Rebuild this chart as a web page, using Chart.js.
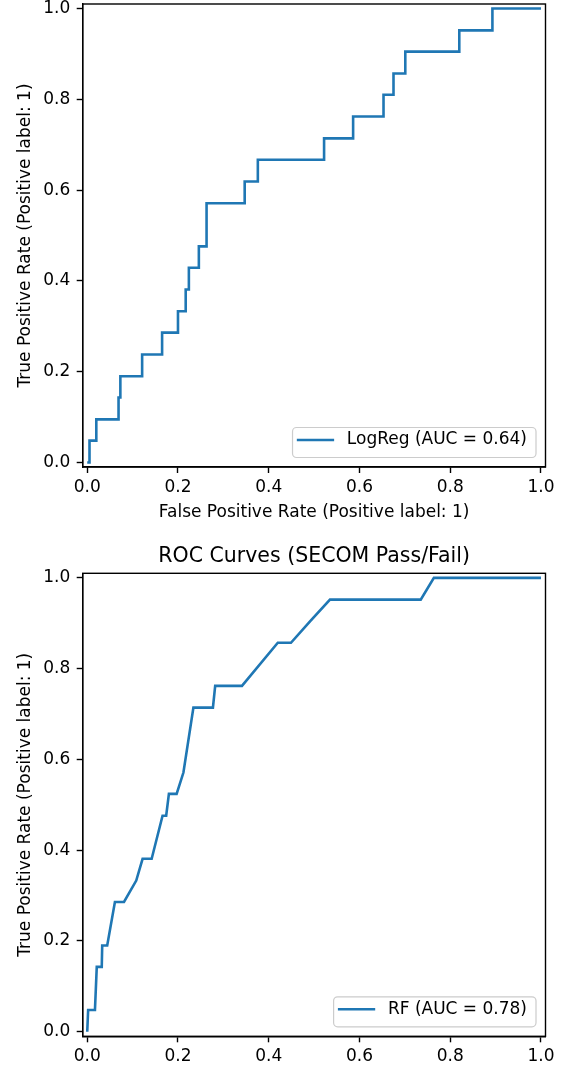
<!DOCTYPE html>
<html><head><meta charset="utf-8">
<script src="https://cdn.jsdelivr.net/npm/chart.js@4.4.1/dist/chart.umd.min.js"></script>
<style>
html,body{margin:0;padding:0;background:#fff;width:573px;height:1065px;overflow:hidden}
.wrap{position:absolute;left:0;width:573px}
canvas{display:block}
</style></head><body>
<div class="wrap" style="top:0;height:532px"><canvas id="c1" width="573" height="532" style="width:573px;height:532px"></canvas></div>
<div class="wrap" style="top:532px;height:533px"><canvas id="c2" width="573" height="533" style="width:573px;height:533px"></canvas></div>
<script>
// ---- data ----
const axisTicks = [0, 0.2, 0.4, 0.6, 0.8, 1.0];

const logregLabel = 'LogReg (AUC = 0.64)';
const logregFpr = [0, 0.005, 0.020, 0.069, 0.073, 0.121, 0.165, 0.200, 0.217, 0.224, 0.246, 0.263, 0.347, 0.376, 0.522, 0.586, 0.653, 0.675, 0.701, 0.820, 0.893, 1.0];
const logregTpr = [0, 0.048, 0.095, 0.143, 0.190, 0.238, 0.286, 0.333, 0.381, 0.429, 0.476, 0.571, 0.619, 0.667, 0.714, 0.762, 0.810, 0.857, 0.905, 0.952, 1.0, 1.0];

const rfLabel = 'RF (AUC = 0.78)';
const rfFpr = [0, 0.002, 0.017, 0.021, 0.032, 0.033, 0.044, 0.061, 0.081, 0.108, 0.122, 0.142, 0.166, 0.174, 0.180, 0.197, 0.212, 0.234, 0.277, 0.282, 0.341, 0.420, 0.449, 0.492, 0.535, 0.735, 0.764, 1.0];
const rfTpr = [0, 0.048, 0.048, 0.143, 0.143, 0.190, 0.190, 0.286, 0.286, 0.333, 0.381, 0.381, 0.476, 0.476, 0.524, 0.524, 0.571, 0.714, 0.714, 0.762, 0.762, 0.857, 0.857, 0.905, 0.952, 0.952, 1.0, 1.0];

const xTitle = 'False Positive Rate (Positive label: 1)';
const yTitle = 'True Positive Rate (Positive label: 1)';
const chartTitle = 'ROC Curves (SECOM Pass/Fail)';

// ---- styling ----
const FONT = "'DejaVu Sans', 'Liberation Sans', sans-serif";
Chart.defaults.font.family = FONT;
Chart.defaults.color = '#000';
const BLUE = '#1f77b4';

const framePlugin = {
  id: 'frame',
  afterDraw(chart) {
    const {ctx, chartArea: a} = chart;
    ctx.save();
    ctx.strokeStyle = '#000';
    ctx.lineWidth = 1.4;
    ctx.strokeRect(a.left, a.top, a.right - a.left, a.bottom - a.top);
    ctx.restore();
  }
};

const boxLegend = {
  id: 'boxLegend',
  afterDraw(chart) {
    const {ctx, chartArea: a} = chart;
    const ds = chart.data.datasets[0];
    ctx.save();
    ctx.font = "17px " + FONT;
    const tw = ctx.measureText(ds.label).width;
    const w = 54.3 + tw + 9, h = 30;
    const x = a.right - 9.5 - w, y = a.bottom - 9.5 - h;
    const r = 4;
    ctx.beginPath();
    ctx.moveTo(x + r, y);
    ctx.lineTo(x + w - r, y);
    ctx.arcTo(x + w, y, x + w, y + r, r);
    ctx.lineTo(x + w, y + h - r);
    ctx.arcTo(x + w, y + h, x + w - r, y + h, r);
    ctx.lineTo(x + r, y + h);
    ctx.arcTo(x, y + h, x, y + h - r, r);
    ctx.lineTo(x, y + r);
    ctx.arcTo(x, y, x + r, y, r);
    ctx.closePath();
    ctx.fillStyle = 'rgba(255,255,255,0.8)';
    ctx.fill();
    ctx.strokeStyle = '#cccccc';
    ctx.lineWidth = 1.2;
    ctx.stroke();
    const ly = y + 12.5;
    ctx.beginPath();
    ctx.strokeStyle = ds.borderColor;
    ctx.lineWidth = 2.6;
    ctx.lineCap = 'butt';
    ctx.moveTo(x + 4.3, ly);
    ctx.lineTo(x + 41.6, ly);
    ctx.stroke();
    ctx.fillStyle = '#000';
    ctx.textBaseline = 'middle';
    ctx.textAlign = 'left';
    ctx.fillText(ds.label, x + 54.3, ly);
    ctx.restore();
  }
};

function makeScales(xH, showXTitle) {
  const common = {
    type: 'linear', min: -0.01, max: 1.01,
    afterBuildTicks: s => { s.ticks = axisTicks.map(v => ({value: v})); },
    grid: {display: true, drawOnChartArea: false, drawTicks: true, tickLength: 6, tickWidth: 1.4, tickColor: '#000'},
    border: {display: true, color: '#000', width: 1.4}
  };
  return {
    x: Object.assign({}, common, {
      position: 'bottom',
      afterFit: s => { s.height = xH; s.paddingLeft = 0; s.paddingRight = 0; },
      ticks: {padding: 4, font: {size: 17}, color: '#000', maxRotation: 0, autoSkip: false, callback: v => Number(v).toFixed(1)},
      title: {display: showXTitle, text: xTitle, font: {size: 17}, color: '#000', padding: {top: 0, bottom: 9}}
    }),
    y: Object.assign({}, common, {
      position: 'left',
      afterFit: s => { s.width = 82.7; s.paddingTop = 0; s.paddingBottom = 0; },
      ticks: {padding: 6.5, font: {size: 17}, color: '#000', autoSkip: false, callback: v => Number(v).toFixed(1)},
      title: {display: true, text: yTitle, font: {size: 17}, color: '#000', padding: {top: 15.5, bottom: 0}}
    })
  };
}

function points(xs, ys) { return xs.map((v, i) => ({x: v, y: ys[i]})); }

new Chart(document.getElementById('c1'), {
  type: 'scatter',
  data: {datasets: [{
    label: logregLabel,
    data: points(logregFpr, logregTpr),
    showLine: true, stepped: 'before', borderColor: BLUE, backgroundColor: BLUE,
    borderWidth: 2.6, pointRadius: 0, fill: false, tension: 0
  }]},
  options: {
    responsive: false, animation: false, events: [],
    layout: {padding: {top: 4, left: 0, right: 27.5, bottom: 0}},
    plugins: {legend: {display: false}, tooltip: {enabled: false}, title: {display: false}},
    scales: makeScales(65, true)
  },
  plugins: [framePlugin, boxLegend]
});

new Chart(document.getElementById('c2'), {
  type: 'scatter',
  data: {datasets: [{
    label: rfLabel,
    data: points(rfFpr, rfTpr),
    showLine: true, borderColor: BLUE, backgroundColor: BLUE,
    borderWidth: 2.6, pointRadius: 0, fill: false, tension: 0
  }]},
  options: {
    responsive: false, animation: false, events: [],
    layout: {padding: {top: 0, left: 0, right: 27.5, bottom: 0}},
    plugins: {
      legend: {display: false}, tooltip: {enabled: false},
      title: {display: true, text: chartTitle, fullSize: false, color: '#000',
              font: {size: 20.5, weight: 'normal'}, padding: {top: 12, bottom: 4.7}}
    },
    scales: makeScales(28.7, false)
  },
  plugins: [framePlugin, boxLegend]
});
</script>
</body></html>
